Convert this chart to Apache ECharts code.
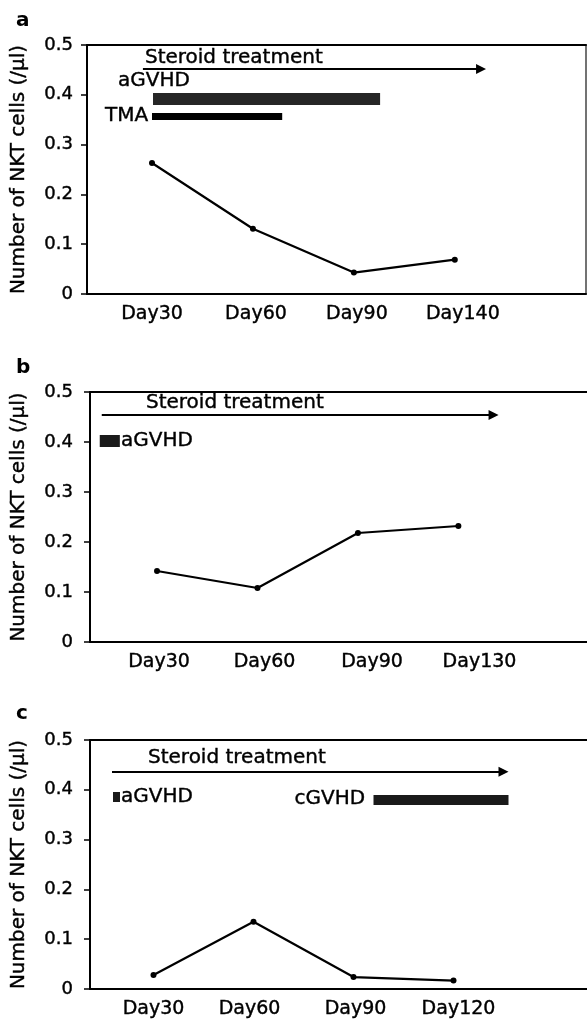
<!DOCTYPE html>
<html><head><meta charset="utf-8">
<script src="https://cdn.jsdelivr.net/npm/echarts@6/dist/echarts.min.js"></script>
<style>html,body{margin:0;padding:0;background:#fff}#c{width:587px;height:1020px}</style>
</head><body><div id="c"></div>
<script>
// ---------- data ----------
const panelLetters = ['a', 'b', 'c'];
const dayLabelsA = ['Day30', 'Day60', 'Day90', 'Day140'];
const dayLabelsB = ['Day30', 'Day60', 'Day90', 'Day130'];
const dayLabelsC = ['Day30', 'Day60', 'Day90', 'Day120'];
// where each day label sits on the index axis (Day30 point = 0)
const labelPosA = [0, 1.03, 2.03, 3.08];
const labelPosB = [0.02, 1.07, 2.14, 3.21];
const labelPosC = [0, 0.96, 2.02, 3.05];
const nktA = [0.263, 0.131, 0.043, 0.069];
const nktB = [0.142, 0.108, 0.218, 0.232];
const nktC = [0.028, 0.135, 0.024, 0.017];
const yTicks = [0, 0.1, 0.2, 0.3, 0.4, 0.5];
const yTitle = 'Number of NKT cells (/\u00b5l)';
// periods in units of the sampling index (Day30 = 0): [start, end, level]
const steroidA = [-0.09, 3.26, 0.452];
const steroidB = [-0.55, 3.35, 0.454];
const steroidC = [-0.415, 3.5, 0.436];
const aGVHDA = [0.01, 2.26, 0.392];
const tmaA = [0.0, 1.29, 0.357];
const aGVHDB = [-0.57, -0.37, 0.402];
const aGVHDC = [-0.405, -0.335, 0.386];
const cGVHDC = [2.2, 3.55, 0.381];
// x extents of each panel axis (index units)
const xRangeA = [-0.644, 4.30];
const xRangeB = [-0.667, 4.28];
const xRangeC = [-0.635, 4.335];

// ---------- build ----------
const FONT = 'DejaVu Sans';
const BLACK = '#000';
const heavy = { textBorderColor: '#000', textBorderWidth: 0.4 };
const layouts = [
  { left: 87, top: 45, width: 499, height: 249, nameGap: 58, labelTop: 6, ym: 14 },
  { left: 90, top: 392, width: 497, height: 250, nameGap: 61, labelTop: 353, ym: 17 },
  { left: 90, top: 740, width: 497, height: 249, nameGap: 61, labelTop: 699, ym: 17 }
];

const panels = [
  { labels: dayLabelsA, labelPos: labelPosA, values: nktA, range: xRangeA, rightBorder: true,
    periods: [
      { r: steroidA, arrow: true, w: 2, color: BLACK },
      { r: aGVHDA, w: 12, color: '#262626' },
      { r: tmaA, w: 7, color: BLACK }
    ],
    texts: [
      { t: 'Steroid treatment', x: -0.07, y: 0.474 },
      { t: 'aGVHD', x: -0.337, y: 0.428 },
      { t: 'TMA', x: -0.465, y: 0.357 }
    ] },
  { labels: dayLabelsB, labelPos: labelPosB, values: nktB, range: xRangeB, rightBorder: false,
    periods: [
      { r: steroidB, arrow: true, w: 2, color: BLACK },
      { r: aGVHDB, w: 12, color: '#1a1a1a' }
    ],
    texts: [
      { t: 'Steroid treatment', x: -0.11, y: 0.478 },
      { t: 'aGVHD', x: -0.358, y: 0.402 }
    ] },
  { labels: dayLabelsC, labelPos: labelPosC, values: nktC, range: xRangeC, rightBorder: false,
    periods: [
      { r: steroidC, arrow: true, w: 2, color: BLACK },
      { r: aGVHDC, w: 10, color: '#1a1a1a' },
      { r: cGVHDC, w: 10, color: '#1a1a1a' }
    ],
    texts: [
      { t: 'Steroid treatment', x: -0.055, y: 0.464 },
      { t: 'aGVHD', x: -0.325, y: 0.386 },
      { t: 'cGVHD', x: 1.41, y: 0.381 }
    ] }
];

const grid = [], xAxis = [], yAxis = [], series = [], title = [];
panels.forEach((p, i) => {
  const L = layouts[i];
  grid.push({ left: L.left, top: L.top, width: L.width, height: L.height });
  title.push({ text: panelLetters[i], left: 11, top: L.labelTop,
    textStyle: { fontFamily: FONT, fontSize: 20, fontWeight: 'bold', color: '#000' } });
  const xi = xAxis.length;
  xAxis.push({
    type: 'value', gridIndex: i, min: p.range[0], max: p.range[1],
    splitLine: { show: false },
    axisLine: { show: true, onZero: false, lineStyle: { color: BLACK, width: 2 } },
    axisTick: { show: false },
    axisLabel: Object.assign({
      customValues: p.labelPos,
      formatter: v => {
        const k = p.labelPos.findIndex(q => Math.abs(q - v) < 1e-6);
        return k >= 0 ? p.labels[k] : '';
      },
      fontFamily: FONT, fontSize: 19, color: '#000', margin: 11
    }, heavy)
  });
  xAxis.push({
    type: 'value', gridIndex: i, position: 'top', min: p.range[0], max: p.range[1],
    splitLine: { show: false }, axisTick: { show: false }, axisLabel: { show: false },
    axisLine: { show: true, onZero: false, lineStyle: { color: BLACK, width: 2 } }
  });
  const yi = yAxis.length;
  yAxis.push({
    type: 'value', gridIndex: i, min: yTicks[0], max: yTicks[yTicks.length - 1], interval: 0.1,
    splitLine: { show: false },
    axisLine: { show: true, onZero: false, lineStyle: { color: BLACK, width: 2 } },
    axisTick: { show: true, length: 6, lineStyle: { color: BLACK, width: 1.5 } },
    axisLabel: Object.assign({ formatter: v => (v === 0 ? '0' : v.toFixed(1)), fontFamily: FONT, fontSize: 18, color: '#000', margin: L.ym }, heavy),
    name: yTitle, nameLocation: 'middle', nameGap: L.nameGap,
    nameTextStyle: Object.assign({ fontFamily: FONT, fontSize: 20, color: '#000' }, heavy)
  });
  if (p.rightBorder) {
    yAxis.push({
      type: 'value', gridIndex: i, position: 'right', min: 0, max: 0.5,
      splitLine: { show: false }, axisTick: { show: false }, axisLabel: { show: false },
      axisLine: { show: true, onZero: false, lineStyle: { color: '#444', width: 1.5 } }
    });
  }
  // periods (arrows and bars)
  p.periods.forEach(pr => {
    series.push({
      type: 'lines', coordinateSystem: 'cartesian2d', xAxisIndex: xi, yAxisIndex: yi,
      silent: true,
      symbol: pr.arrow ? ['none', 'triangle'] : ['none', 'none'],
      symbolSize: pr.arrow ? [12, 10] : 0,
      lineStyle: { color: pr.color, width: pr.w, opacity: 1, cap: 'butt' },
      data: [{ coords: [[pr.r[0], pr.r[2]], [pr.r[1], pr.r[2]]] }]
    });
  });
  // texts
  p.texts.forEach(tx => {
    series.push({
      type: 'scatter', xAxisIndex: xi, yAxisIndex: yi, symbolSize: 0, silent: true,
      itemStyle: { opacity: 1 },
      data: [[tx.x, tx.y]],
      label: Object.assign({ show: true, formatter: tx.t, position: 'right', distance: 0,
        fontFamily: FONT, fontSize: 20, color: '#000', opacity: 1 }, heavy)
    });
  });
  // NKT series
  series.push({
    type: 'line', xAxisIndex: xi, yAxisIndex: yi,
    data: p.values.map((v, k) => [k, v]),
    symbol: 'circle', symbolSize: 6,
    itemStyle: { color: BLACK },
    lineStyle: { color: BLACK, width: 2.2 }
  });
});

const chart = echarts.init(document.getElementById('c'), null, { renderer: 'canvas' });
chart.setOption({ animation: false, backgroundColor: '#fff', title, grid, xAxis, yAxis, series });
</script></body></html>
